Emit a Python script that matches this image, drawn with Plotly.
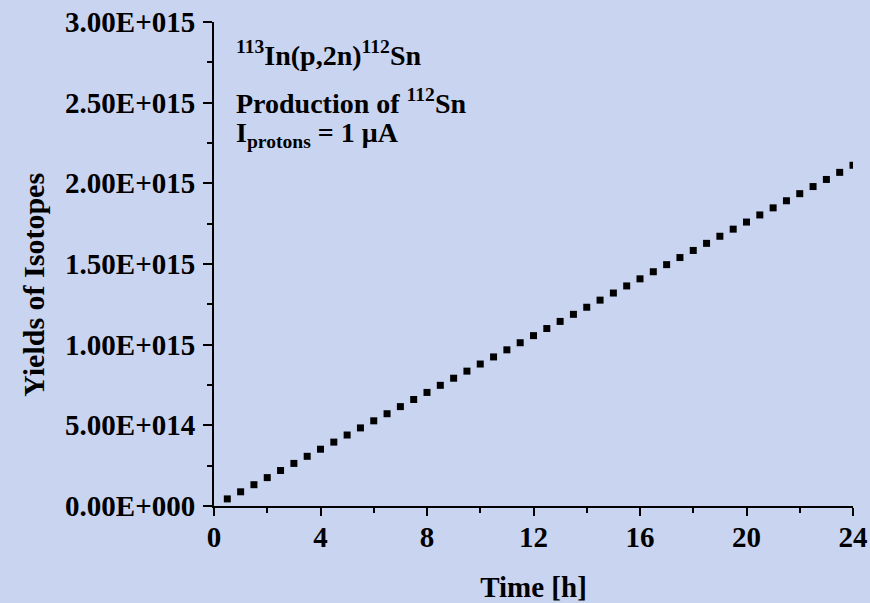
import plotly.graph_objects as go

# Irradiation time [h]
time_h = [0.5, 1.0, 1.5, 2.0, 2.5, 3.0, 3.5, 4.0, 4.5, 5.0, 5.5, 6.0,
          6.5, 7.0, 7.5, 8.0, 8.5, 9.0, 9.5, 10.0, 10.5, 11.0, 11.5, 12.0,
          12.5, 13.0, 13.5, 14.0, 14.5, 15.0, 15.5, 16.0, 16.5, 17.0, 17.5, 18.0,
          18.5, 19.0, 19.5, 20.0, 20.5, 21.0, 21.5, 22.0, 22.5, 23.0, 23.5, 24.0]

# Yield of 112Sn (units of 1e15)
yield_e15 = [0.044, 0.088, 0.132, 0.176, 0.220, 0.264, 0.308, 0.352, 0.396, 0.440, 0.484, 0.528,
             0.572, 0.616, 0.660, 0.704, 0.748, 0.792, 0.836, 0.880, 0.924, 0.968, 1.012, 1.056,
             1.100, 1.144, 1.188, 1.232, 1.276, 1.320, 1.364, 1.408, 1.452, 1.496, 1.540, 1.584,
             1.628, 1.672, 1.716, 1.760, 1.804, 1.848, 1.892, 1.936, 1.980, 2.024, 2.068, 2.112]
yields = [v * 1e15 for v in yield_e15]

x_ticks = [0, 4, 8, 12, 16, 20, 24]
y_tick_vals = [0, 0.5e15, 1.0e15, 1.5e15, 2.0e15, 2.5e15, 3.0e15]
y_tick_text = ["0.00E+000", "5.00E+014", "1.00E+015", "1.50E+015",
               "2.00E+015", "2.50E+015", "3.00E+015"]

FONT = "Liberation Serif, Times New Roman, serif"
BG = "#c9d4f1"

fig = go.Figure()
fig.add_trace(go.Scatter(
    x=time_h, y=yields, mode="markers",
    marker=dict(symbol="square", size=7, color="black", line=dict(width=0)),
    showlegend=False,
))

fig.update_layout(
    width=870, height=603, autosize=False,
    margin=dict(l=214, r=17, t=22, b=97),
    paper_bgcolor=BG, plot_bgcolor=BG,
    font=dict(family=FONT, color="black", size=29, weight="bold"),
)

fig.update_xaxes(
    range=[0, 24], tickvals=x_ticks, ticktext=[str(v) for v in x_ticks],
    showgrid=False, zeroline=False,
    showline=True, linecolor="black", linewidth=2,
    ticks="outside", ticklen=8, tickwidth=2, tickcolor="black",
    minor=dict(ticks="outside", ticklen=5, tickwidth=2, tickcolor="black", dtick=2, tick0=0),
    tickfont=dict(family=FONT, size=29, weight="bold"),
    ticklabelstandoff=-4,
    title=dict(text="Time [h]", font=dict(family=FONT, size=29, weight="bold"), standoff=26),
    automargin=False,
)
fig.update_yaxes(
    range=[0, 3e15], tickvals=y_tick_vals, ticktext=y_tick_text,
    showgrid=False, zeroline=False,
    showline=True, linecolor="black", linewidth=2,
    ticks="outside", ticklen=9, tickwidth=2, tickcolor="black",
    minor=dict(ticks="outside", ticklen=5, tickwidth=2, tickcolor="black", dtick=0.25e15, tick0=0),
    tickfont=dict(family=FONT, size=29, weight="bold"),
    ticklabelstandoff=2,
    automargin=False,
)

# y-axis title (placed as annotation to match its lower-than-centre position)
fig.add_annotation(xref="paper", yref="paper", x=-0.2817, y=0.457, xanchor="center", yanchor="middle",
                   text="Yields of Isotopes", textangle=-90, showarrow=False,
                   font=dict(family=FONT, size=30, weight="bold", color="black"))

ann_font = dict(family=FONT, size=28, weight="bold", color="black")
fig.add_annotation(xref="paper", yref="paper", x=0.032, y=0.935, xanchor="left", yanchor="middle",
                   text="<sup>113</sup>In(p,2n)<sup>112</sup>Sn", showarrow=False, font=ann_font)
fig.add_annotation(xref="paper", yref="paper", x=0.032, y=0.835, xanchor="left", yanchor="middle",
                   text="Production of <sup>112</sup>Sn", showarrow=False, font=ann_font)
fig.add_annotation(xref="paper", yref="paper", x=0.032, y=0.768, xanchor="left", yanchor="middle",
                   text="I<sub>protons</sub> = 1 μA", showarrow=False, font=ann_font)

fig.write_html("out.html")
